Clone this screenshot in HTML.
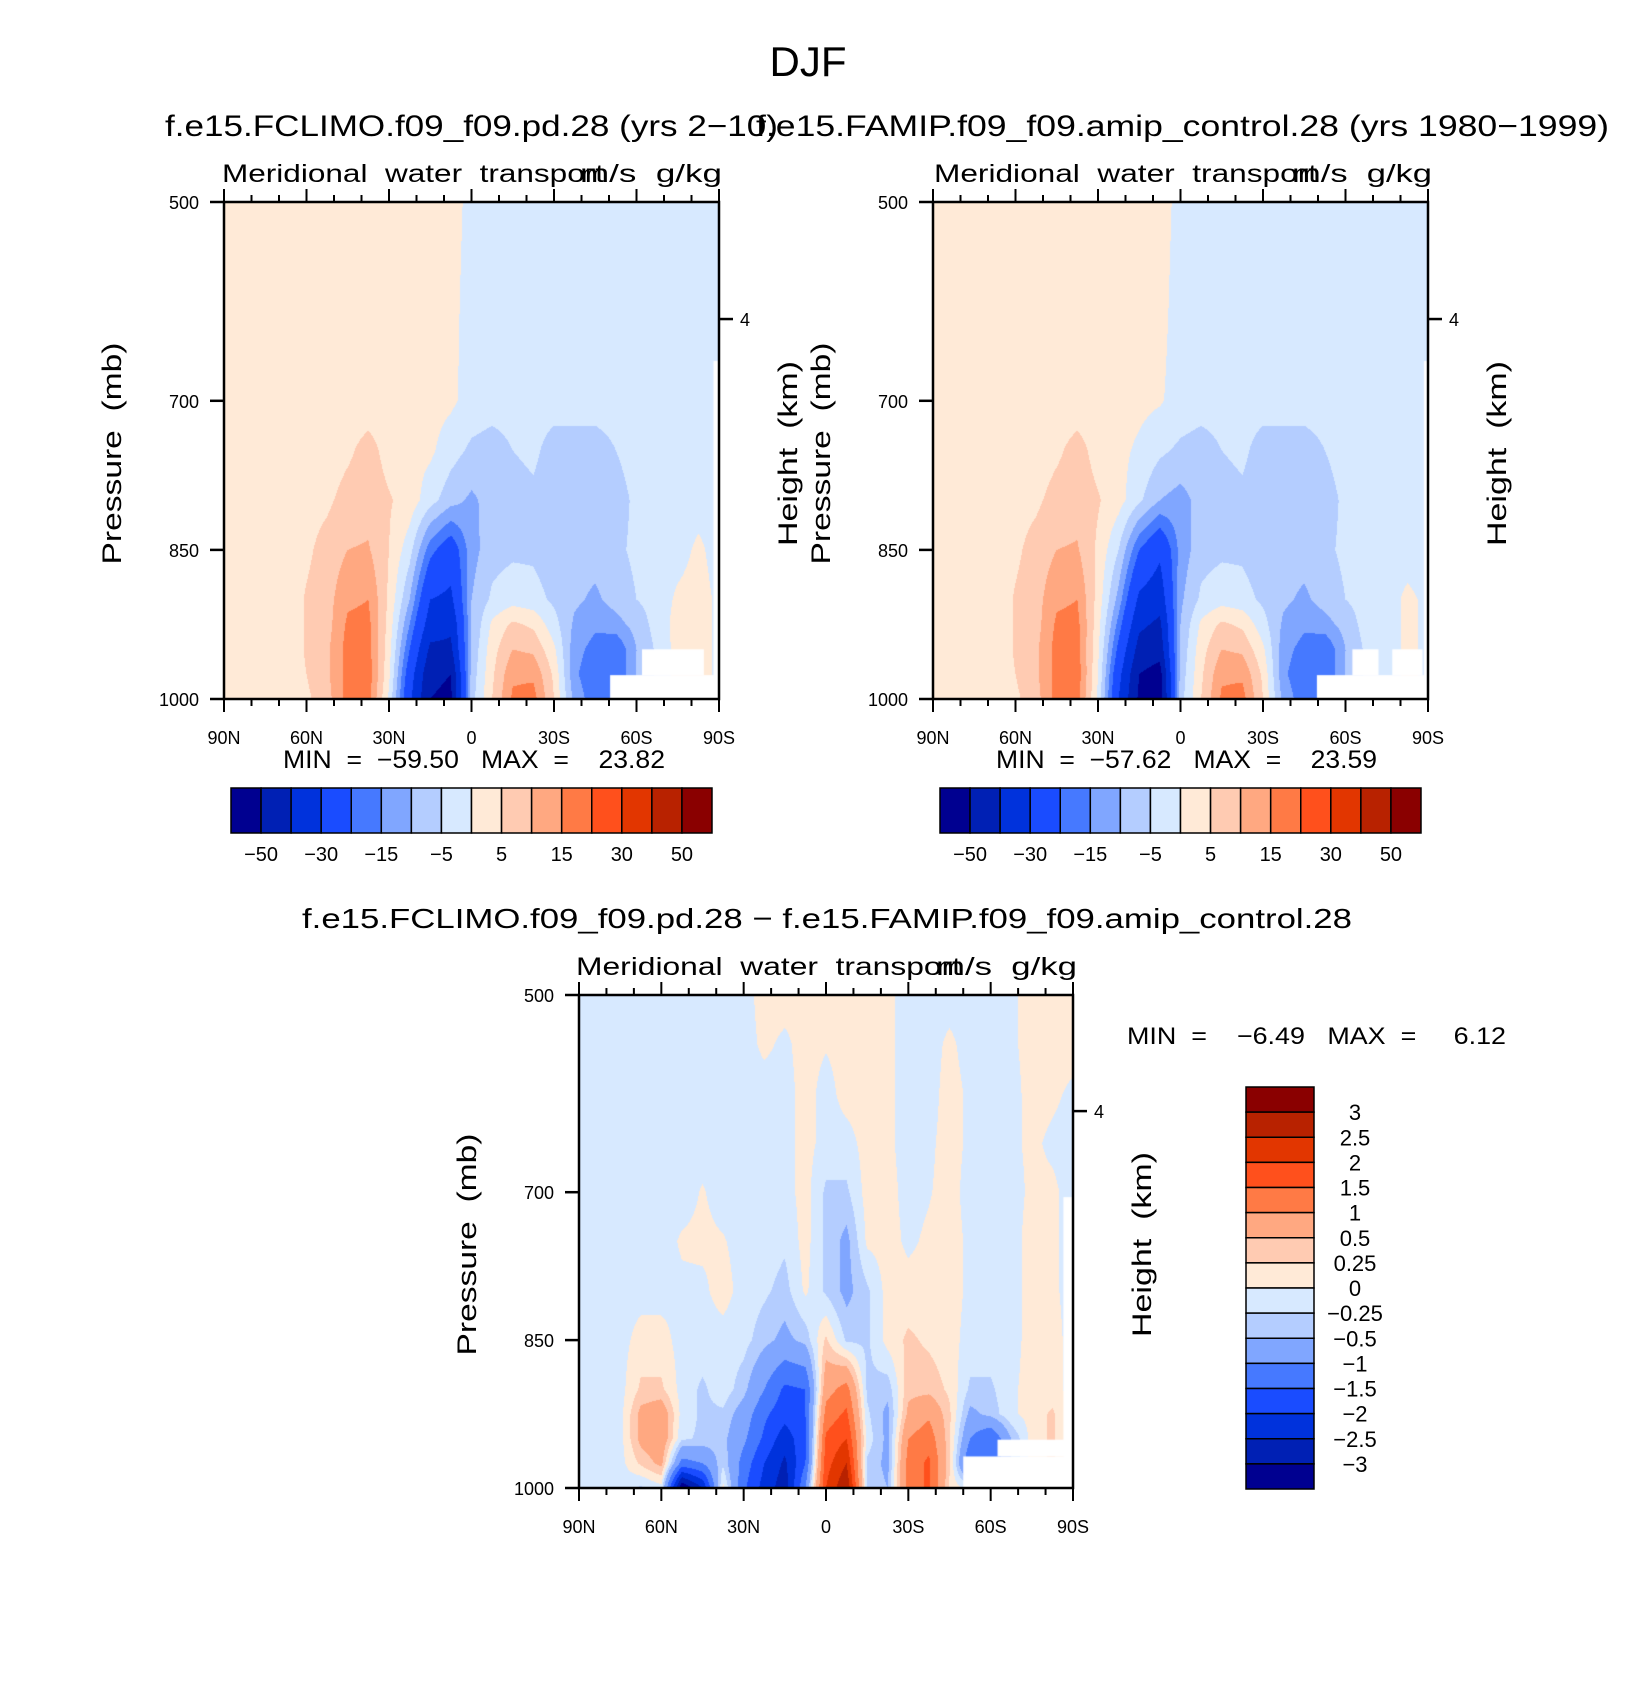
<!DOCTYPE html>
<html><head><meta charset="utf-8">
<style>
html,body{margin:0;padding:0;background:#fff;}
#wrap{position:relative;width:1652px;height:1691px;overflow:hidden;font-family:"Liberation Sans",sans-serif;}
canvas{position:absolute;}
svg{position:absolute;left:0;top:0;}
text{font-family:"Liberation Sans",sans-serif;fill:#000;white-space:pre;}
</style></head>
<body>
<div id="wrap">
<canvas id="c1"></canvas>
<canvas id="c2"></canvas>
<canvas id="c3"></canvas>
<svg id="svg" width="1652" height="1691"></svg>
</div>
<script>
// ---------- data ----------
const latLabels = ['90N','60N','30N','0','30S','60S','90S'];
const pTicks = [500,700,850,1000];
const lvTop = [-50,-40,-30,-20,-15,-10,-5,0,5,10,15,20,30,40,50];
const lvTopLabels = ['-50','-30','-15','-5','5','15','30','50'];
const lvDiff = [-3,-2.5,-2,-1.5,-1,-0.5,-0.25,0,0.25,0.5,1,1.5,2,2.5,3];
const lvDiffLabels = ['-3','-2.5','-2','-1.5','-1','-0.5','-0.25','0','0.25','0.5','1','1.5','2','2.5','3'];
const palette = ['#000090','#0020b4','#0032dc','#1a4cff','#4679ff','#80a6ff','#b4cdff','#d7e9ff','#ffead7','#ffcbb2','#ffa881','#ff7a45','#ff501c','#e23600','#b82200','#8a0000'];

// columns: 90N..90S every 7.5 deg (25 values)
const pres1 = [500,600,700,750,800,850,900,925,950,975,1000];
const field1 = [
[2,2,2,2,2,2,2,2,2,2,2,2,-1.5,-2,-2,-2,-2,-2,-2,-2,-2,-2,-2,-2,-2],
[2,2,2,2,2,2,2,2,2,2,2,1.5,-2,-2,-2,-2,-2,-2,-2,-2,-2,-2,-2,-2,-2],
[2,2,2,2,2,2,2,2,2,2,2,1,-2,-3,-3,-3,-3,-3,-3,-3,-3,-3,-3,-3,-3],
[2,2,2,2,2,2,4,7,3,1.5,1,-3,-6,-7,-5,-4,-7,-7,-7,-5,-3,-3,-3,-2,-2],
[2,2,2,2,3,4,7,8,5.5,3,-3,-8,-11,-8,-7,-6,-8,-8,-8,-7,-4,-3,-3,-2,-2],
[2,2,2,2,4,7,10,10.5,5,-3,-18,-25,-12,-7,-6,-6,-8,-8,-8,-6,-4,-3,-2,1,-2],
[2,2,2,2,5.5,8,14,15,4,-10,-30,-32,-10,-4,-2,-3,-6,-9,-11,-8,-5,-3,1,2,-1],
[2,2,2,2,5.5,8,16,16.5,3,-15,-35,-38,-10,1,6,4,-3,-11,-14,-12,-8,-3,2,2,-1],
[2,2,2,2,5.5,9,17,17,2,-20,-42,-42,-9,3,10,9,1,-13,-17,-20,-10,-4,2,2,-1],
[2,2,2,2,5,9,17,18,1,-25,-48,-50,-8,4,14,14,4,-14,-19,-20,-10,-4,2,2,-1],
[2,2,2,2,4,8,17,17,-1,-28,-50,-52,-7,5,16,17,5,-12,-18,-18,-10,-4,2,2,-1]
];
const pres2 = [500,600,700,750,800,850,900,925,950,975,1000];
const field2 = [
[2,2,2,2,2,2,2,2,2,2,2,2,-1.5,-2,-2,-2,-2,-2,-2,-2,-2,-2,-2,-2,-2],
[2,2,2,2,2,2,2,2,2,2,2,1.5,-2,-2,-2,-2,-2,-2,-2,-2,-2,-2,-2,-2,-2],
[2,2,2,2,2,2,2,2,2,2,1.5,0.5,-2,-3,-3,-3,-3,-3,-3,-3,-3,-3,-3,-3,-3],
[2,2,2,2,2,2,4,7,3,1.5,-1,-4,-6,-7,-5,-4,-7,-7,-7,-5,-3,-3,-3,-2,-2],
[2,2,2,2,3,4,7,8,5.5,2,-4,-10,-12,-8,-7,-6,-8,-8,-8,-7,-4,-3,-3,-2,-2],
[2,2,2,2,4,7,10,10.5,4,-5,-20,-28,-13,-7,-6,-6,-8,-8,-8,-6,-4,-3,-2,-2,-2],
[2,2,2,2,5.5,8,14,15,3,-12,-32,-36,-11,-4,-2,-3,-6,-9,-11,-8,-5,-3,-2,1,-1],
[2,2,2,2,5.5,8,16,16.5,2,-17,-38,-42,-10,1,6,4,-3,-11,-14,-12,-8,-3,-2,1,-1],
[2,2,2,2,5.5,9,17,17,1,-22,-44,-46,-9,3,10,9,1,-13,-17,-20,-10,-4,-2,1,-1],
[2,2,2,2,5,9,17,18,0,-27,-50,-54,-8,4,14,14,4,-14,-19,-20,-10,-4,-2,1,-1],
[2,2,2,2,4,8,17,17,-1,-30,-52,-56,-7,5,16,17,5,-12,-18,-18,-10,-4,-2,1,-1]
];
const pres3 = [500,550,600,650,700,750,800,850,900,925,950,975,1000];
const field3 = [
[-0.1,-0.1,-0.1,-0.1,-0.1,-0.1,-0.1,-0.1,-0.1,0.1,0.1,0.05,0.1,0.1,0.1,0.05,-0.1,-0.1,-0.1,-0.1,-0.1,-0.05,0.1,0.1,0.1],
[-0.1,-0.1,-0.1,-0.1,-0.1,-0.1,-0.1,-0.1,-0.1,0.05,-0.05,0.1,0.02,0.1,0.1,0.05,-0.1,-0.1,0.05,-0.1,-0.1,-0.05,0.1,0.1,0.1],
[-0.1,-0.1,-0.1,-0.1,-0.1,-0.1,-0.1,-0.1,-0.1,-0.1,-0.1,0.1,-0.1,0.1,0.1,0.05,-0.1,-0.1,0.1,-0.05,-0.1,-0.1,0.1,0.05,-0.05],
[-0.1,-0.1,-0.1,-0.1,-0.1,-0.1,-0.1,-0.1,-0.1,-0.1,-0.1,0.1,-0.1,-0.1,0.1,0.05,-0.1,-0.05,0.1,-0.05,-0.1,-0.05,0.05,-0.05,-0.1],
[-0.1,-0.1,-0.1,-0.1,-0.1,-0.1,0.02,-0.1,-0.1,-0.1,-0.1,0.1,-0.3,-0.3,0.1,0.1,-0.1,-0.02,0.1,-0.1,-0.1,-0.1,0.05,0.05,-0.1],
[-0.1,-0.1,-0.1,-0.1,-0.1,0.03,0.05,0.02,-0.1,-0.1,-0.2,0.1,-0.3,-0.6,0.05,0.1,-0.05,0.05,0.1,-0.05,-0.1,-0.1,0.1,0.05,-0.1],
[-0.1,-0.1,-0.1,-0.1,-0.1,-0.05,-0.05,0.1,-0.1,-0.2,-0.35,0.05,-0.3,-0.6,-0.3,0.1,0.1,0.1,0.1,-0.05,-0.1,-0.1,0.1,0.05,-0.1],
[-0.1,-0.1,-0.1,0.1,0.1,-0.1,-0.1,-0.1,-0.15,-0.4,-0.6,-0.4,0.3,-0.3,-0.3,0.1,0.3,0.2,0.1,-0.1,-0.1,-0.1,0.1,0.1,-0.1],
[-0.1,-0.1,-0.1,0.3,0.3,-0.1,-0.3,-0.1,-0.4,-1.0,-1.6,-1.5,0.8,1.2,-0.3,-0.4,0.4,0.4,0.2,-0.3,-0.3,-0.05,0.1,0.1,-0.1],
[-0.1,-0.1,-0.1,0.6,0.8,-0.1,-0.3,-0.3,-0.7,-1.4,-1.8,-1.5,1.2,1.6,-0.2,-0.6,0.6,0.9,0.3,-0.6,-0.4,-0.05,0.1,0.3,-0.1],
[-0.1,-0.1,-0.1,0.6,0.8,-0.2,-0.3,-0.4,-0.9,-1.6,-2.3,-1.6,1.6,2.0,-0.1,-0.6,1.0,1.3,0.3,-1.0,-1.5,-0.5,0.1,0.3,-0.1],
[-0.1,-0.1,-0.1,0.3,0.6,-1.2,-1.0,-0.3,-1.2,-2.0,-2.6,-1.5,1.8,2.5,-0.3,-0.6,1.2,1.6,0.3,-1.5,-1.5,-0.5,0.1,0.3,-0.1],
[-0.1,-0.2,-0.1,-0.3,-0.1,-3.5,-2.5,0.1,-1.4,-2.2,-2.8,-1.0,2.0,3.0,-0.3,-0.5,1.2,1.6,0.2,-0.1,-0.5,-0.5,0.1,0.3,-0.1]
];
// missing-data boxes: [latFrom, latTo, pTop, pBottom]  (lat: +N / -S)
const missing1 = [[-50.4,-90,976,1000],[-62,-84.5,950,976],[-88,-90,660,1000]];
const missing2 = [[-49.6,-90,976,1000],[-62.5,-72,950,976],[-77,-88,950,976],[-88.5,-90,660,1000]];
const missing3 = [[-50,-90,968,1000],[-62.5,-90,951,968],[-86.5,-90,705,1000]];

// ---------- layout ----------
const P1 = {x0:224,x1:719,y0:202,y1:699};
const P2 = {x0:933,x1:1428,y0:202,y1:699};
const P3 = {x0:579,x1:1073,y0:995,y1:1488};
const NS='http://www.w3.org/2000/svg';
const svg=document.getElementById('svg');
function mk(tag,attrs,parent){const e=document.createElementNS(NS,tag);for(const k in attrs)e.setAttribute(k,attrs[k]);(parent||svg).appendChild(e);return e;}
function xs(P,lat){return P.x0+(90-lat)/180*(P.x1-P.x0);}
function ys(P,p){return P.y0+(p-500)/500*(P.y1-P.y0);}
function hexRGB(h){return [parseInt(h.substr(1,2),16),parseInt(h.substr(3,2),16),parseInt(h.substr(5,2),16)];}
const palRGB=palette.map(hexRGB);
function bin(v,lv){let k=0;while(k<lv.length&&v>=lv[k])k++;return k;}

function renderField(id,P,pres,field,lv,miss){
  const cv=document.getElementById(id);
  const W=P.x1-P.x0,H=P.y1-P.y0;
  cv.width=W;cv.height=H;cv.style.left=P.x0+'px';cv.style.top=P.y0+'px';
  const ctx=cv.getContext('2d');const img=ctx.createImageData(W,H);
  const nc=field[0].length;
  for(let py=0;py<H;py++){
    const p=500+(py+0.5)/H*500;
    let j=0;while(j<pres.length-2&&p>pres[j+1])j++;
    const t=Math.min(1,Math.max(0,(p-pres[j])/(pres[j+1]-pres[j])));
    for(let px=0;px<W;px++){
      const f=(px+0.5)/W*(nc-1);let i=Math.min(nc-2,Math.floor(f));const s=f-i;
      const a=field[j][i]*(1-s)+field[j][i+1]*s;
      const b=field[j+1][i]*(1-s)+field[j+1][i+1]*s;
      const v=a*(1-t)+b*t;
      const c=palRGB[bin(v,lv)];const o=(py*W+px)*4;
      img.data[o]=c[0];img.data[o+1]=c[1];img.data[o+2]=c[2];img.data[o+3]=255;
    }
  }
  ctx.putImageData(img,0,0);
  ctx.fillStyle='#fff';
  miss.forEach(m=>{const xa=xs(P,m[0])-P.x0,xb=xs(P,m[1])-P.x0,ya=ys(P,m[2])-P.y0,yb=ys(P,m[3])-P.y0;ctx.fillRect(xa,ya,xb-xa,yb-ya);});
}
renderField('c1',P1,pres1,field1,lvTop,missing1);
renderField('c2',P2,pres2,field2,lvTop,missing2);
renderField('c3',P3,pres3,field3,lvDiff,missing3);

function txt(s,x,y,size,opts){opts=opts||{};const a={x:x,y:y,'font-size':size,'text-anchor':opts.anchor||'start'};
  if(opts.len){a.textLength=opts.len;a.lengthAdjust='spacingAndGlyphs';}
  if(opts.rot){a.transform='rotate(-90 '+x+' '+y+')';}
  const e=mk('text',a);e.setAttributeNS('http://www.w3.org/XML/1998/namespace','xml:space','preserve');e.textContent=s;return e;}

function axes(P,tag,sub){
  const g=mk('g',{});
  
  
  mk('rect',{x:P.x0,y:P.y0,width:P.x1-P.x0,height:P.y1-P.y0,fill:'none',stroke:'#000','stroke-width':2.5},g);
  for(let lat=90;lat>=-90;lat-=10){
    const x=xs(P,lat);const major=(lat%30===0);const L=major?13:7;
    mk('line',{x1:x,y1:P.y0,x2:x,y2:P.y0-L,stroke:'#000','stroke-width':2},g);
    mk('line',{x1:x,y1:P.y1,x2:x,y2:P.y1+L,stroke:'#000','stroke-width':2},g);
  }
  latLabels.forEach((s,k)=>{txt(s,xs(P,90-30*k),P.y1+45,18,{anchor:'middle',name:'x-tick-label'});});
  pTicks.forEach(p=>{const y=ys(P,p);mk('line',{x1:P.x0,y1:y,x2:P.x0-14,y2:y,stroke:'#000','stroke-width':2.5},g);
    txt(String(p),P.x0-25,y+7,18,{anchor:'end',name:'y-tick-label'});});
  const yh=P.y0+0.2355*(P.y1-P.y0);
  mk('line',{x1:P.x1,y1:yh,x2:P.x1+14,y2:yh,stroke:'#000','stroke-width':2.5},g);
  txt('4',P.x1+26,yh+7,18,{anchor:'middle',name:'height-tick-label'});
  txt('Pressure  (mb)',P.x0-103,(P.y0+P.y1)/2+3,27,{anchor:'middle',rot:true,len:222,name:'y-axis-title'});
  txt('Height  (km)',P.x1+78,(P.y0+P.y1)/2+3,27,{anchor:'middle',rot:true,len:185,name:'right-axis-title'});
  txt('Meridional  water  transport',sub[0],P.y0-20,25,{len:sub[1]-sub[0],name:'variable-title'});
  txt('m/s  g/kg',sub[2],P.y0-20,25,{len:sub[3]-sub[2],name:'units-title'});
}
axes(P1,'fclimo',[222,604,580,722]);
axes(P2,'famip',[934,1317,1292,1432]);
axes(P3,'difference',[576,961,936,1077]);

txt('DJF',808,76,42,{anchor:'middle',name:'season-title'});
txt('f.e15.FCLIMO.f09_f09.pd.28 (yrs 2\u221210)',165,136,30,{len:613,name:'panel-title-fclimo'});
txt('f.e15.FAMIP.f09_f09.amip_control.28 (yrs 1980\u22121999)',756,136,30,{len:853,name:'panel-title-famip'});
txt('f.e15.FCLIMO.f09_f09.pd.28 \u2212 f.e15.FAMIP.f09_f09.amip_control.28',302,928,28,{len:1050,name:'panel-title-difference'});
txt('MIN  =  \u221259.50   MAX  =    23.82',283,768,25,{len:382,name:'minmax-fclimo'});
txt('MIN  =  \u221257.62   MAX  =    23.59',996,768,25,{len:381,name:'minmax-famip'});
txt('MIN  =    \u22126.49   MAX  =     6.12',1127,1044,24,{len:379,name:'minmax-difference'});

// horizontal colorbars
function hbar(x0,x1,y0,y1,tag){
  const n=palette.length,w=(x1-x0)/n;
  palette.forEach((c,k)=>{const r=mk('rect',{x:x0+k*w,y:y0,width:w,height:y1-y0,fill:c,stroke:'#000','stroke-width':1.5});
    
    });
  lvTopLabels.forEach((s,k)=>{txt(s.replace('-','\u2212'),x0+(2*k+1)*w,y1+28,20,{anchor:'middle',name:'colorbar-label'});});
}
hbar(231,712,788,833,'fclimo');
hbar(940,1421,788,833,'famip');
// vertical colorbar
(function(){
  const x0=1246,x1=1314,y0=1087,y1=1489,n=palette.length,h=(y1-y0)/n;
  palette.slice().reverse().forEach((c,k)=>{const r=mk('rect',{x:x0,y:y0+k*h,width:x1-x0,height:h,fill:c,stroke:'#000','stroke-width':1.5});
    
    });
  lvDiffLabels.slice().reverse().forEach((s,k)=>{txt(s.replace('-','\u2212'),1355,y0+(k+1)*h+8,22,{anchor:'middle',name:'colorbar-label'});});
})();
</script>
</body></html>
